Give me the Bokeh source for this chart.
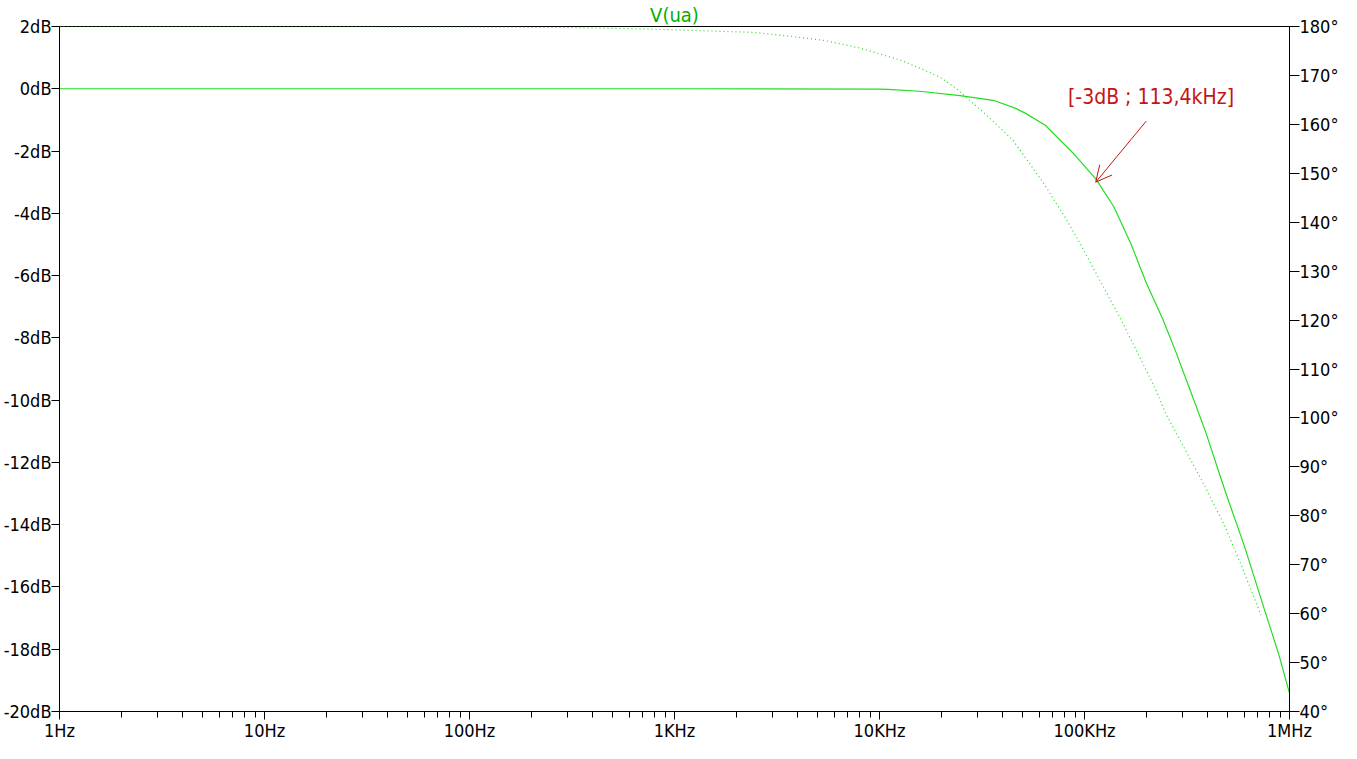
from bokeh.plotting import figure
from bokeh.models import (Range1d, LinearAxis, FixedTicker, PrintfTickFormatter,
                          Label, Arrow, OpenHead, ColumnDataSource)
from bokeh.embed import file_html
from bokeh.resources import INLINE

# ---- data ----
mag_freq = [1, 10, 100, 1000, 10000, 11000, 15700, 24700, 35900, 46200, 51600,
            64400, 89600, 114000, 139000, 168000, 200000, 241000, 279000,
            325000, 388000, 483000, 602000, 751000, 886000, 989000, 1000000]
mag_db = [0, 0, 0, 0, -0.01, -0.02, -0.08, -0.22, -0.37, -0.63, -0.79,
          -1.17, -2.12, -2.91, -3.79, -4.96, -6.23, -7.40, -8.45,
          -9.62, -10.98, -12.88, -14.68, -16.68, -18.16, -19.30, -19.40]

phase_freq = [1, 10, 100, 300, 727, 2440, 3670, 5280, 6730, 8200, 12700,
              15900, 19800, 23900, 27500, 32100, 44700, 62200, 80200, 96800,
              120600, 150300, 187500, 221000, 249500, 311000, 388000, 483000,
              583000, 726000]
phase_deg = [180, 180, 179.9, 179.8, 179.5, 178.8, 178.0, 177.2, 176.3, 175.5,
             173.1, 171.4, 169.6, 167.2, 164.9, 162.5, 156.8, 148.4, 141.1,
             135.1, 127.6, 120.2, 112.1, 106.1, 100.8, 93.4, 85.9, 77.9, 69.8,
             59.7]

x_ticks = [1, 10, 100, 1000, 10000, 100000, 1000000]
x_tick_labels = ["1Hz", "10Hz", "100Hz", "1KHz", "10KHz", "100KHz", "1MHz"]
db_ticks = list(range(-20, 3, 2))
deg_ticks = list(range(40, 181, 10))

marker_freq = 113400
marker_db = -3.0
marker_text = "[-3dB ; 113,4kHz]"
arrow_from_freq = 200000
arrow_from_db = -1.04
text_freq = 211000
text_db = -0.28

FONT = "DejaVu Sans Condensed"
LINE_GREEN = "#22dd22"

p = figure(width=1341, height=743, x_axis_type="log",
           x_range=Range1d(1, 1e6), y_range=Range1d(-20, 2),
           output_backend="svg", toolbar_location=None,
           min_border_left=0, min_border_right=0, min_border_top=0,
           min_border_bottom=0)

p.title.text = "V(ua)"
p.title.align = "center"
p.title.text_color = "#00b000"
p.title.text_font = FONT
p.title.text_font_size = "20px"
p.title.text_font_style = "normal"
p.title.standoff = 0
p.title.offset = 0

p.extra_y_ranges = {"phase": Range1d(40, 180)}

p.xgrid.grid_line_color = None
p.ygrid.grid_line_color = None
p.outline_line_color = "black"
p.outline_line_alpha = 1.0
p.background_fill_color = "white"
p.border_fill_color = "white"

minor = [k * 10 ** n for n in range(0, 6) for k in range(2, 10)]
xa = p.xaxis[0]
xa.ticker = FixedTicker(ticks=x_ticks, minor_ticks=minor)
xa.major_label_overrides = {t: l for t, l in zip(x_ticks, x_tick_labels)}
xa.major_tick_in = 0
xa.major_tick_out = 8
xa.minor_tick_in = 0
xa.minor_tick_out = 6

ya = p.yaxis[0]
ya.ticker = FixedTicker(ticks=db_ticks)
ya.formatter = PrintfTickFormatter(format="%ddB")
ya.major_tick_in = 0
ya.major_tick_out = 8
ya.minor_tick_line_color = None

ra = LinearAxis(y_range_name="phase")
ra.ticker = FixedTicker(ticks=deg_ticks)
ra.formatter = PrintfTickFormatter(format="%d°")
ra.major_tick_in = 0
ra.major_tick_out = 10
ra.minor_tick_line_color = None
p.add_layout(ra, "right")

for ax in [xa, ya, ra]:
    ax.axis_line_color = "black"
    ax.major_tick_line_color = "black"
    ax.major_label_text_font = FONT
    ax.major_label_text_font_size = "18px"
    ax.major_label_text_color = "black"
    ax.major_label_standoff = 0
xa.minor_tick_line_color = "black"

mag_src = ColumnDataSource(dict(f=mag_freq, v=mag_db))
ph_src = ColumnDataSource(dict(f=phase_freq, v=phase_deg))

p.line("f", "v", source=mag_src, line_color=LINE_GREEN, line_width=1.2)
p.line("f", "v", source=ph_src, y_range_name="phase", line_color=LINE_GREEN,
       line_width=1.2, line_dash="1 3")

p.add_layout(Arrow(end=OpenHead(size=16, line_color="#c41414", line_width=1),
                   x_start=arrow_from_freq, y_start=arrow_from_db,
                   x_end=marker_freq, y_end=marker_db,
                   line_color="#c41414", line_width=1))

p.add_layout(Label(x=text_freq, y=text_db, text=marker_text,
                   text_align="center", text_baseline="middle",
                   text_color="#c41414", text_font=FONT,
                   text_font_size="21px"))

open("out.html", "w").write(file_html(p, INLINE))
